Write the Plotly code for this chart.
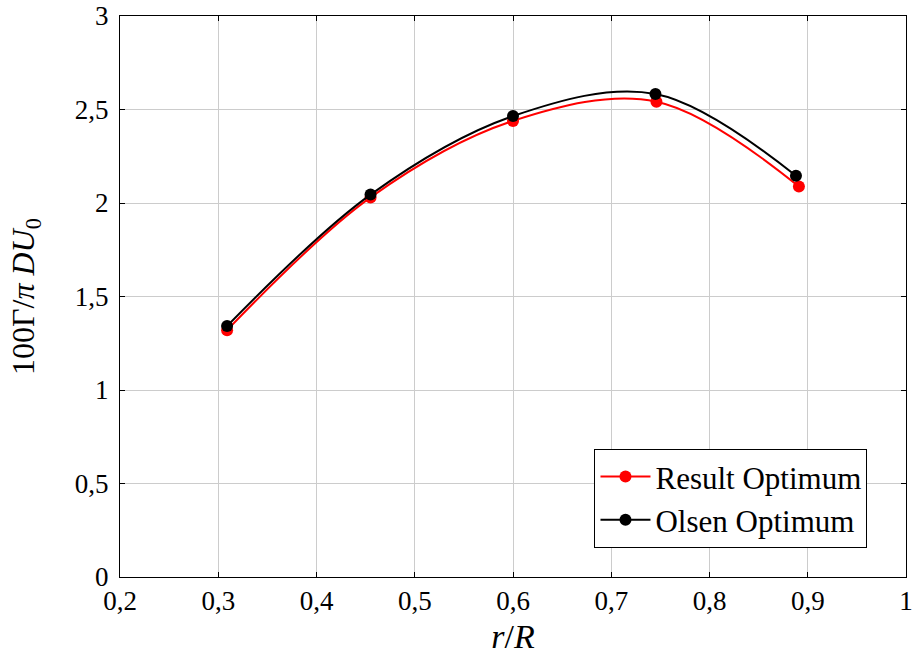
import plotly.graph_objects as go

r_result = [0.309, 0.455, 0.600, 0.746, 0.891]
g_result = [1.320, 2.030, 2.439, 2.542, 2.088]
r_olsen = [0.309, 0.455, 0.600, 0.745, 0.888]
g_olsen = [1.342, 2.045, 2.465, 2.583, 2.146]

x_ticks = [0.2, 0.3, 0.4, 0.5, 0.6, 0.7, 0.8, 0.9, 1.0]
x_labels = ["0,2", "0,3", "0,4", "0,5", "0,6", "0,7", "0,8", "0,9", "1"]
y_ticks = [0, 0.5, 1, 1.5, 2, 2.5, 3]
y_labels = ["0", "0,5", "1", "1,5", "2", "2,5", "3"]

FONT = "Liberation Serif"

fig = go.Figure()
fig.add_trace(go.Scatter(x=r_result, y=g_result, mode="lines+markers", name="Result Optimum",
                         line=dict(color="#ff0000", width=2, shape="spline", smoothing=1.0),
                         marker=dict(color="#ff0000", size=12)))
fig.add_trace(go.Scatter(x=r_olsen, y=g_olsen, mode="lines+markers", name="Olsen Optimum",
                         line=dict(color="#000000", width=2, shape="spline", smoothing=1.0),
                         marker=dict(color="#000000", size=12)))

axis_common = dict(showline=True, linecolor="black", linewidth=1, mirror="ticks",
                   ticks="inside", ticklen=5, tickcolor="black",
                   showgrid=True, gridcolor="#cccccc", gridwidth=1, zeroline=False,
                   automargin=False, ticklabeloverflow="allow",
                   tickfont=dict(family=FONT, size=27, color="black"))

fig.update_xaxes(range=[0.2, 1.0], tickvals=x_ticks, ticktext=x_labels,
                 title=dict(text="<i>r</i>/<i>R</i>", font=dict(family=FONT, size=34, color="black"), standoff=8),
                 **axis_common)
fig.update_yaxes(range=[0, 3], tickvals=y_ticks, ticktext=y_labels, ticklabelstandoff=5,
                 title=dict(text="100Γ/<i>π</i> <i>D</i><i>U</i><sub>0</sub>", font=dict(family=FONT, size=32, color="black"), standoff=30),
                 **axis_common)

fig.update_layout(width=912, height=660, paper_bgcolor="white", plot_bgcolor="white",
                  margin=dict(l=120, r=6, t=16, b=83),
                  font=dict(family=FONT, color="black"),
                  legend=dict(x=0.951, y=0.052, xanchor="right", yanchor="bottom",
                              bgcolor="white", bordercolor="black", borderwidth=1,
                              font=dict(family=FONT, size=31, color="black"),
                              tracegroupgap=0, itemwidth=50))

fig.write_html("out.html")
